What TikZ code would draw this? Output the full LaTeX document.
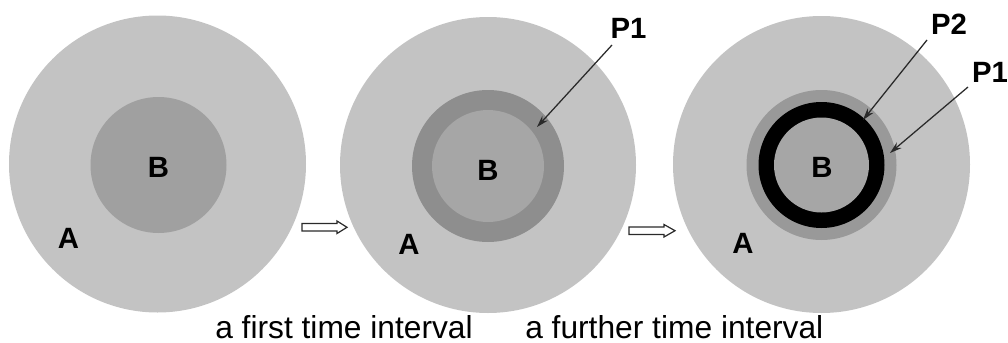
\documentclass[tikz,border=0pt]{standalone}
\usepackage{fontspec}
\setmainfont{Liberation Sans}
\usetikzlibrary{arrows.meta}
\definecolor{outerA}{HTML}{C3C3C3}
\definecolor{coreB}{HTML}{A0A0A0}
\definecolor{ringP}{HTML}{8E8E8E}
\definecolor{innerB}{HTML}{A6A6A6}
\definecolor{ringQ}{HTML}{999999}
\definecolor{linegray}{HTML}{2A2A2A}
\tikzset{
  lbl/.style={font=\bfseries\fontsize{22}{24}\selectfont, inner sep=0pt},
  captext/.style={font=\fontsize{23.8}{28}\selectfont, inner sep=0pt, anchor=base west},
  pointer/.style={draw=linegray, line width=0.95pt, -{Stealth[length=9pt,width=5.5pt]}},
  hollow/.style={draw=linegray, fill=white, line width=0.9pt, line join=miter},
}
\begin{document}
\begin{tikzpicture}[x=0.75pt,y=-0.75pt]
\useasboundingbox (0,0) rectangle (1008,343);
% circle 1
\fill[outerA] (157.5,164) circle[radius=148.5];
\fill[coreB] (158.5,165) circle[radius=68];
\node[lbl] (B1) at (158.5,167.5) {B};
\node[lbl] (A1) at (68.5,238) {A};
% circle 2
\fill[outerA] (488,165) circle[radius=148];
\fill[ringP] (488,166) circle[radius=76];
\fill[innerB] (488,166) circle[radius=56];
\node[lbl] (B2) at (488,170) {B};
\node[lbl] (A2) at (409,244) {A};
\node[lbl] (P1b) at (628.5,28) {P1};
\coordinate (s2) at (612,45);
\coordinate (t2) at (537,127);
\draw[pointer] (s2) -- (t2);
% circle 3
\fill[outerA] (821.5,164.5) circle[radius=148.5];
\fill[ringQ] (821.5,165) circle[radius=75];
\fill[black] (821.5,165) circle[radius=63];
\fill[innerB] (821.5,165) circle[radius=47.5];
\node[lbl] (B3) at (822,167.5) {B};
\node[lbl] (A3) at (743,243) {A};
\node[lbl] (P2c) at (949,24) {P2};
\node[lbl] (P1c) at (990,72) {P1};
\coordinate (s3a) at (927,40);
\coordinate (t3a) at (863,120);
\coordinate (s3b) at (968,87);
\coordinate (t3b) at (890,153);
\draw[pointer] (s3a) -- (t3a);
\draw[pointer] (s3b) -- (t3b);
% hollow arrows
\draw[hollow] (302,223.5) -- (337,223.5) -- (337,221) -- (347,227.3) -- (337,233.5) -- (337,231) -- (302,231) -- cycle;
\draw[hollow] (629,227) -- (664,227) -- (664,224.5) -- (675,230.7) -- (664,237) -- (664,234.5) -- (629,234.5) -- cycle;
% captions
\node[captext] (c1) at (215,338) {a first time interval};
\node[captext] (c2) at (525,338) {a further time interval};
\end{tikzpicture}
\end{document}
